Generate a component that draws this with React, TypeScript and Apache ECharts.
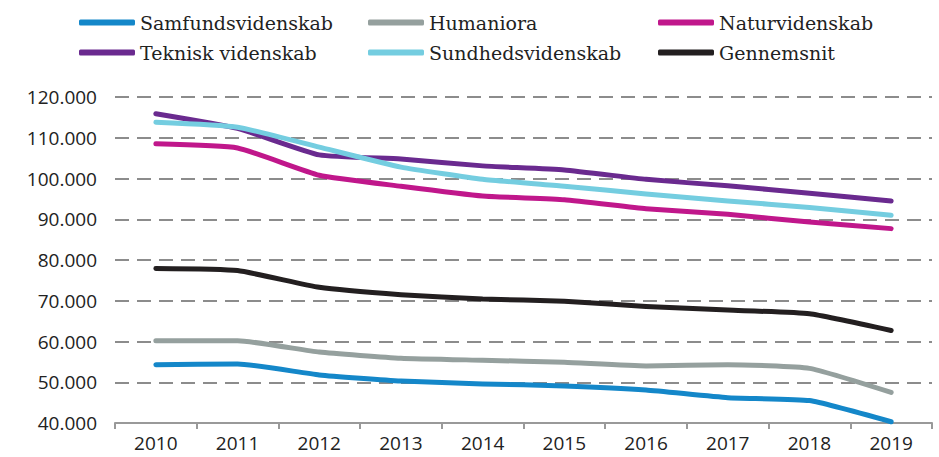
import React, { useEffect, useRef } from "react";
import * as echarts from "echarts";

const years = ["2010", "2011", "2012", "2013", "2014", "2015", "2016", "2017", "2018", "2019"];
const samfund = [54300, 54500, 51800, 50300, 49600, 49100, 48100, 46200, 45500, 40300];
const humaniora = [60200, 60200, 57400, 55900, 55400, 54900, 54000, 54300, 53400, 47500];
const natur = [108500, 107500, 100800, 98100, 95700, 94800, 92600, 91200, 89300, 87700];
const teknisk = [115900, 112300, 105800, 104800, 103100, 102100, 99800, 98200, 96400, 94500];
const sundhed = [113800, 112600, 107700, 102800, 99800, 98100, 96200, 94500, 92900, 91000];
const gennemsnit = [77900, 77400, 73300, 71500, 70400, 69900, 68600, 67700, 66800, 62700];

const names = ["Samfundsvidenskab", "Humaniora", "Naturvidenskab", "Teknisk videnskab", "Sundhedsvidenskab", "Gennemsnit"];
const colors = ["#1487c9", "#95a09e", "#c0178b", "#6a2a8f", "#74cde0", "#231f20"];
const values = [samfund, humaniora, natur, teknisk, sundhed, gennemsnit];

export default function App() {
  const ref = useRef<HTMLDivElement>(null);
  useEffect(() => {
    if (!ref.current) return;
    const chart = echarts.init(ref.current, null, { renderer: "svg" });
    const lefts = [74, 363, 653];
    const tops = [8, 38];
    chart.setOption({
      animation: false,
      backgroundColor: "#ffffff",
      legend: names.map((n, i) => ({
        data: [n],
        left: lefts[i % 3],
        top: tops[Math.floor(i / 3)],
        icon: "roundRect",
        itemWidth: 56,
        itemHeight: 6,
        itemGap: 0,
        textStyle: { fontFamily: "DejaVu Serif", fontSize: 19, color: "#222" },
        selectedMode: false,
      })),
      grid: { left: 115, right: 7, top: 97, bottom: 34, containLabel: false },
      xAxis: {
        type: "category",
        data: years,
        boundaryGap: true,
        axisLine: { lineStyle: { color: "#999", width: 2 } },
        axisTick: { show: true, length: 6, lineStyle: { color: "#999", width: 2 } },
        axisLabel: { fontFamily: "Open Sans", fontSize: 19, lineHeight: 19, color: "#222", margin: 10 },
        splitLine: { show: false },
      },
      yAxis: {
        type: "value",
        min: 40000,
        max: 120000,
        interval: 10000,
        axisLine: { show: false },
        axisTick: { show: false },
        axisLabel: {
          fontFamily: "Open Sans",
          fontSize: 19,
          color: "#222",
          margin: 18,
          formatter: (v: number) => (v / 1000).toFixed(0) + ".000",
        },
        splitLine: { lineStyle: { type: [14, 8], color: "#8c8c8c", width: 2 } },
      },
      series: names.map((n, i) => ({
        name: n,
        type: "line",
        data: values[i],
        color: colors[i],
        smooth: 0.15,
        symbol: "none",
        lineStyle: { width: 5, cap: "round", join: "round", color: colors[i] },
      })),
    });
    return () => chart.dispose();
  }, []);
  return <div ref={ref} style={{ width: 939, height: 457, position: "absolute", left: 0, top: 0 }} />;
}
